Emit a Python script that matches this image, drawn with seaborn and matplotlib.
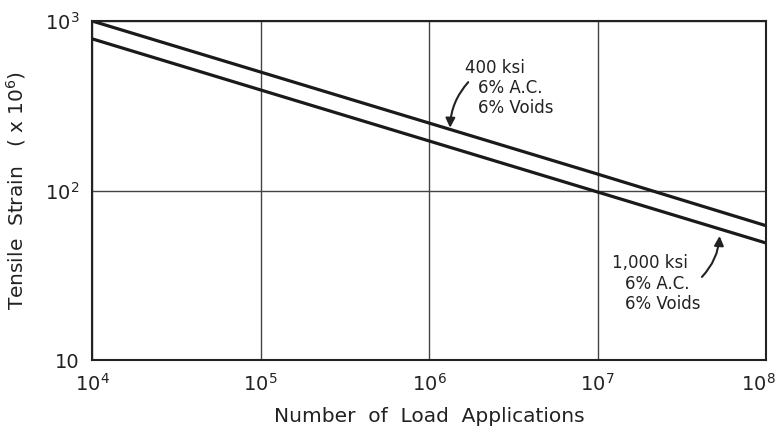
import pandas as pd
import matplotlib
matplotlib.use("Agg")
import matplotlib.pyplot as plt
import matplotlib.transforms as mtransforms
import seaborn as sns

# load applications (decades) and tensile strain (x 10^6)
load_apps = [1e4, 1e5, 1e6, 1e7, 1e8]
strain_400ksi = [1000, 500, 250, 125, 62]
strain_1000ksi = [785, 392, 196, 98, 49]

x_ticks = [1e4, 1e5, 1e6, 1e7, 1e8]
x_labels = ["$10^4$", "$10^5$", "$10^6$", "$10^7$", "$10^8$"]
y_ticks = [10, 100, 1000]
y_labels = ["10", "$10^2$", "$10^3$"]

df = pd.DataFrame({
    "apps": load_apps * 2,
    "strain": strain_400ksi + strain_1000ksi,
    "mix": ["400 ksi"] * len(load_apps) + ["1,000 ksi"] * len(load_apps),
})

sns.set_style("white")
plt.rcParams["font.family"] = ["DejaVu Sans"]
plt.rcParams["mathtext.fontset"] = "dejavusans"

fig = plt.figure(figsize=(7.81, 4.38), dpi=100)
ax = fig.add_axes([0.118, 0.178, 0.863, 0.774])

sns.lineplot(data=df, x="apps", y="strain", units="mix", estimator=None,
             color="#1a1a1a", linewidth=2.3, ax=ax, legend=False)

ax.set_xscale("log")
ax.set_yscale("log")
ax.set_xlim(1e4, 1e8)
ax.set_ylim(10, 1000)
ax.set_xticks(x_ticks, x_labels)
ax.set_yticks(y_ticks, y_labels)
ax.minorticks_off()
ax.tick_params(length=0, labelsize=14, colors="#222222", pad=9)
ax.grid(True, color="#444444", linewidth=1)
for s in ax.spines.values():
    s.set_color("#222222")
    s.set_linewidth(1.5)

# nudge the last x label left so it stays inside the figure
last = ax.get_xticklabels()[-1]
last.set_transform(last.get_transform() +
                   mtransforms.ScaledTranslation(-8 / 100, 0, fig.dpi_scale_trans))

ax.set_xlabel("Number  of  Load  Applications", fontsize=14.5, color="#222222", labelpad=9)
ax.set_ylabel("Tensile  Strain   ( x 10$^6$)", fontsize=14.5, color="#222222", labelpad=12)

tkw = dict(fontsize=12, color="#222222", va="center", ha="left")
ax.text(1.64e6, 527, "400 ksi", **tkw)
ax.text(1.95e6, 402, "6% A.C.", **tkw)
ax.text(1.95e6, 305, "6% Voids", **tkw)
ax.annotate("", xy=(1.33e6, 226), xytext=(1.75e6, 448),
            arrowprops=dict(arrowstyle="-|>", color="#222222", lw=1.5,
                            connectionstyle="arc3,rad=0.2", mutation_scale=14))

ax.text(1.22e7, 37.5, "1,000 ksi", **tkw)
ax.text(1.46e7, 28.2, "6% A.C.", **tkw)
ax.text(1.46e7, 21.4, "6% Voids", **tkw)
ax.annotate("", xy=(5.3e7, 56), xytext=(4.05e7, 30.1),
            arrowprops=dict(arrowstyle="-|>", color="#222222", lw=1.5,
                            connectionstyle="arc3,rad=0.2", mutation_scale=14))

fig.savefig("out.png", dpi=100)
